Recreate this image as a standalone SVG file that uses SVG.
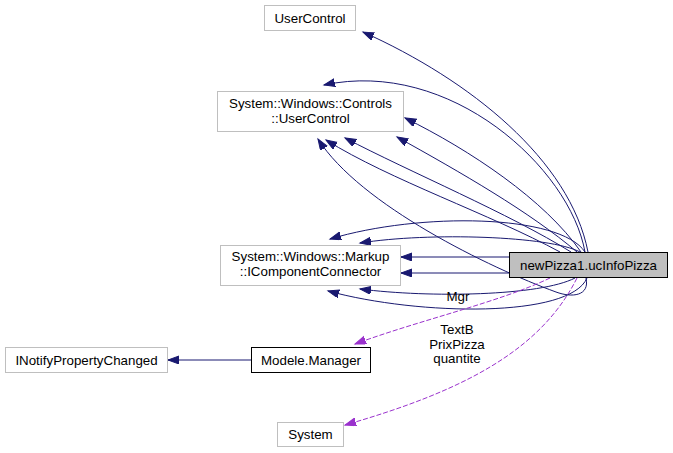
<svg xmlns="http://www.w3.org/2000/svg" width="673" height="453" viewBox="0 0 673 453">
<style>
text{font-family:"Liberation Sans",Arial,sans-serif;font-size:13.33px;fill:#000;text-anchor:middle}
.ext{fill:#fff;stroke:#bfbfbf;stroke-width:1}
.int{fill:#fff;stroke:#000;stroke-width:1}
.cur{fill:#bfbfbf;stroke:#000;stroke-width:1}
.e{fill:none;stroke:#191970;stroke-width:1;marker-end:url(#ah)}
.u{fill:none;stroke:#9a32cd;stroke-width:1;stroke-dasharray:5,2;marker-end:url(#ap)}
</style>
<defs>
<marker id="ah" markerUnits="userSpaceOnUse" markerWidth="13" markerHeight="10" refX="11" refY="4" orient="auto"><path d="M0,0 L11,4 L0,8 z" fill="#191970" stroke="#191970"/></marker>
<marker id="ap" markerUnits="userSpaceOnUse" markerWidth="13" markerHeight="10" refX="11" refY="4" orient="auto"><path d="M0,0 L11,4 L0,8 z" fill="#9a32cd" stroke="#9a32cd"/></marker>
</defs>
<rect width="673" height="453" fill="#fff"/>
<g id="connectors">
<path class="e" d="M588,252 C570,160 470,80 363,32"/>
<path class="e" d="M585,252 C570,168 450,58 324,85"/>
<path class="e" d="M581,252 C545,200 470,150 405,118"/>
<path class="e" d="M577,252 C530,212 460,172 397,137"/>
<path class="e" d="M571,252 C510,214 410,172 345,138"/>
<path class="e" d="M560,252 C490,214 390,180 326,140"/>
<path class="e" d="M586,278 C590,296 572,298 556,292 C490,268 360,205 318,139"/>
<path class="e" d="M585,252 C560,214 420,212 330,239"/>
<path class="e" d="M580,252 C550,236 430,232 360,243"/>
<path class="e" d="M509,257 L401,257"/>
<path class="e" d="M509,273 L401,273"/>
<path class="e" d="M575,278 C540,296 430,298 360,289"/>
<path class="e" d="M587,278 C570,318 420,316 328,291"/>
<path class="e" d="M251,360 L168,360"/>
<path class="u" d="M550,278 C500,302 420,320 355,344"/>
<path class="u" d="M577,278 C540,352 460,392 345,425"/>
<text x="458" y="301">Mgr</text>
<text x="457" y="334">TextB</text>
<text x="457" y="349">PrixPizza</text>
<text x="457" y="363">quantite</text>
</g>
<g id="node-ucInfoPizza">
<rect class="cur" x="509.5" y="252.5" width="158" height="25"/>
<text x="588.5" y="269.5">newPizza1.ucInfoPizza</text>
</g>
<g id="node-UserControl">
<rect class="ext" x="264.5" y="5.5" width="91" height="25"/>
<text x="310" y="22.5">UserControl</text>
</g>
<g id="node-ControlsUserControl">
<rect class="ext" x="217.5" y="91.5" width="186" height="40"/>
<text x="310.5" y="107.5">System::Windows::Controls</text>
<text x="310.5" y="122.5">::UserControl</text>
</g>
<g id="node-IComponentConnector">
<rect class="ext" x="220.5" y="245.5" width="180" height="40"/>
<text x="310.5" y="261">System::Windows::Markup</text>
<text x="310.5" y="276">::IComponentConnector</text>
</g>
<g id="node-INotifyPropertyChanged">
<rect class="ext" x="5.5" y="347.5" width="162" height="25"/>
<text x="86.5" y="364.5">INotifyPropertyChanged</text>
</g>
<g id="node-Manager">
<rect class="int" x="251.5" y="347.5" width="119" height="25"/>
<text x="311" y="364.5">Modele.Manager</text>
</g>
<g id="node-System">
<rect class="ext" x="277.5" y="422.5" width="66" height="24"/>
<text x="310.5" y="439">System</text>
</g>
</svg>
